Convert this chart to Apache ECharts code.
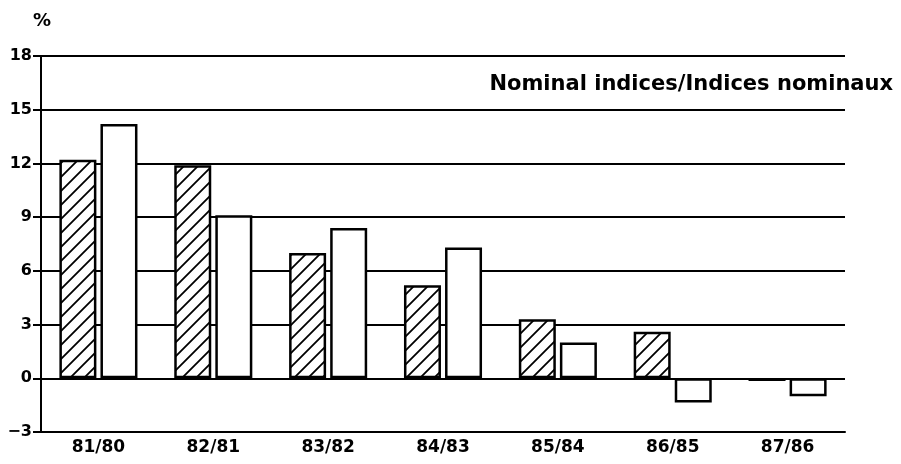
<!DOCTYPE html>
<html>
<head>
<meta charset="utf-8">
<script src="https://cdn.jsdelivr.net/npm/echarts@6/dist/echarts.min.js"></script>
<style>
  html, body { margin: 0; padding: 0; background: #fff; }
  #chart { width: 901px; height: 464px; }
</style>
</head>
<body>
<div id="chart"></div>
<script>
// periods (year / previous year)
const categories = ['81/80', '82/81', '83/82', '84/83', '85/84', '86/85', '87/86']
// hatched bars
const hatchedValues = [12.2, 11.9, 7.0, 5.2, 3.3, 2.6, -0.15]
// white bars
const whiteValues = [14.2, 9.1, 8.4, 7.3, 2.0, -1.35, -1.0]
const yTicks = { min: -3, max: 18, step: 3 }
const titleText = 'Nominal indices/Indices nominaux'

// diagonal hatch tile
function makeHatch () {
  let s = 14
  let c = document.createElement('canvas')
  c.width = s
  c.height = s
  let ctx = c.getContext('2d')
  ctx.fillStyle = '#fff'
  ctx.fillRect(0, 0, s, s)
  ctx.strokeStyle = '#000'
  ctx.lineWidth = 1.8
  ctx.beginPath()
  ctx.moveTo(-2, s + 2); ctx.lineTo(s + 2, -2)
  ctx.moveTo(-2, 2); ctx.lineTo(2, -2)
  ctx.moveTo(s - 2, s + 2); ctx.lineTo(s + 2, s - 2)
  ctx.stroke()
  return c
}

const font = '"DejaVu Sans", sans-serif'
let dom = echarts.init(document.getElementById('chart'), null, { renderer: 'canvas' })

let option = {
  animation: false,
  backgroundColor: '#fff',
  grid: { left: 41, right: 56, top: 56, bottom: 32 },
  graphic: [
    {
      type: 'text', left: 33, top: 12,
      style: { text: '%', font: 'bold 18px ' + font, fill: '#000' }
    },
    {
      type: 'text', right: 8, top: 74,
      style: { text: titleText, font: 'bold 21px ' + font, fill: '#000' }
    }
  ],
  xAxis: {
    type: 'category',
    data: categories,
    axisLine: { onZero: false, lineStyle: { color: '#000', width: 2 } },
    axisTick: { show: false },
    axisLabel: { color: '#000', fontSize: 17, fontWeight: 'bold', fontFamily: font, margin: 7 }
  },
  yAxis: {
    type: 'value',
    min: yTicks.min,
    max: yTicks.max,
    interval: yTicks.step,
    axisLine: { show: true, lineStyle: { color: '#000', width: 2 } },
    axisTick: { show: true, length: 8, lineStyle: { color: '#000', width: 2 } },
    splitLine: { lineStyle: { color: '#000', width: 2 } },
    axisLabel: {
      color: '#000', fontSize: 16, fontWeight: 'bold', fontFamily: font, margin: 9,
      formatter: v => (v < 0 ? '\u2212' + Math.abs(v) : String(v))
    }
  },
  series: [
    {
      type: 'bar',
      data: hatchedValues,
      barWidth: 37,
      barGap: '11%',
      itemStyle: { color: { image: makeHatch(), repeat: 'repeat' }, borderColor: '#000', borderWidth: 2.5 }
    },
    {
      type: 'bar',
      data: whiteValues,
      barWidth: 37,
      itemStyle: { color: '#fff', borderColor: '#000', borderWidth: 2.5 }
    }
  ]
}

dom.setOption(option)
</script>
</body>
</html>
